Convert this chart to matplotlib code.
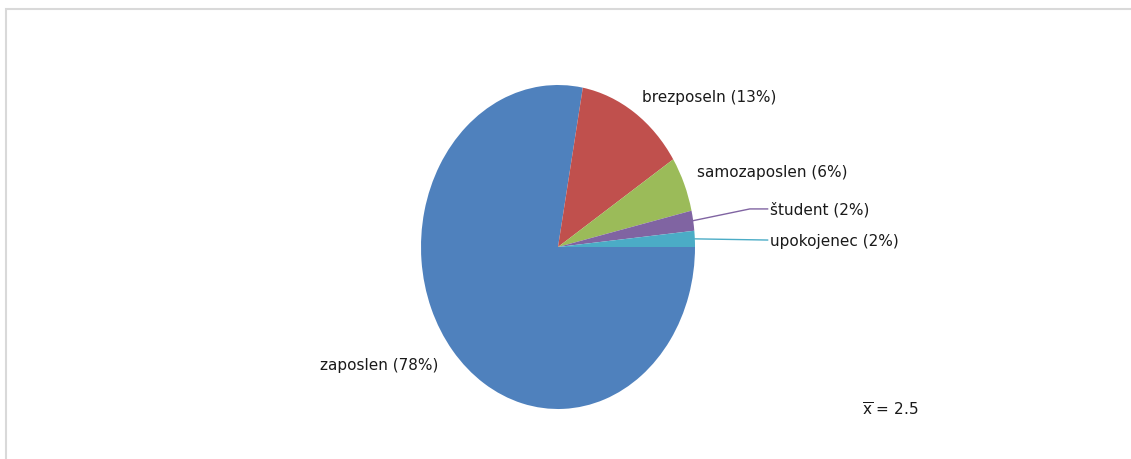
import numpy as np
import matplotlib
matplotlib.use("Agg")
import matplotlib.pyplot as plt
from matplotlib.patches import Rectangle

# --- data ---------------------------------------------------------------
categories = ["zaposlen", "brezposeln", "samozaposlen", "študent", "upokojenec"]
shares = [77.9, 13.0, 5.5, 2.0, 1.6]
shown_pct = [78, 13, 6, 2, 2]
mean_value = 2.5

COLORS = ["#4F81BD", "#C0504D", "#9BBB59", "#8064A2", "#4BACC6"]
TEXT_COLOR = "#1a1a1a"

W, H = 1131, 460
fig = plt.figure(figsize=(W / 100, H / 100), dpi=100)
ax = fig.add_axes([0, 0, 1, 1])

# pie centre / radii in pixels (elliptical pie, as in the source)
cx, cy, rx, ry = 558, 248, 137, 162

wedges, _ = ax.pie(shares, colors=COLORS, startangle=0, counterclock=False,
                   radius=1.0, center=(0, 0), wedgeprops=dict(linewidth=0))
ax.set_aspect("auto")
ax.set_xlim(-cx / rx, (W - cx) / rx)
ax.set_ylim(-(H - cy) / ry, cy / ry)
ax.axis("off")

labels = [f"{c} ({p}%)" for c, p in zip(categories, shown_pct)]
# label anchor positions (in pie-radius units) and alignment
label_pos = [(-0.876, -0.728, "right"),
             (0.613, 0.926, "left"),
             (1.015, 0.463, "left"),
             (1.547, 0.235, "left"),
             (1.547, 0.043, "left")]
for lab, (x, y, ha) in zip(labels, label_pos):
    ax.text(x, y, lab, ha=ha, va="center", fontsize=11, color=TEXT_COLOR)

# leader lines for the two small slices
for i, elbow in ((3, 1.40), (4, None)):
    w = wedges[i]
    mid = np.deg2rad((w.theta1 + w.theta2) / 2)
    x0, y0 = np.cos(mid), np.sin(mid)
    ty = label_pos[i][1]
    if elbow is None:
        xs, ys = [x0, 1.53], [y0, ty]
    else:
        xs, ys = [x0, elbow, 1.53], [y0, ty, ty]
    ax.plot(xs, ys, color=COLORS[i], lw=1.0, clip_on=False)

ax.text(2.219, -1.0, r"$\overline{\mathrm{x}}$" + f" = {mean_value}",
        ha="left", va="center", fontsize=11, color=TEXT_COLOR)

# light chart border (only the top and left edges fall inside the image)
fig.add_artist(Rectangle((6 / W, -0.1), 1.0, 1.1 - 10 / H,
                         transform=fig.transFigure, fill=False,
                         edgecolor="#d9d9d9", linewidth=1.5))

fig.savefig("out.png", dpi=100)
